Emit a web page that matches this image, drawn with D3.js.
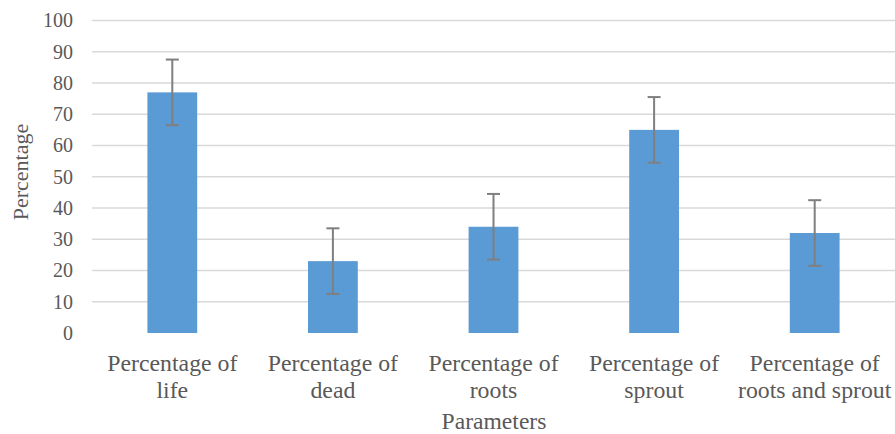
<!DOCTYPE html>
<html>
<head>
<meta charset="utf-8">
<script src="https://cdn.jsdelivr.net/npm/d3@7"></script>
<style>
  body { margin: 0; background: #fff; }
  svg text { font-family: "Liberation Serif", Tinos, "Times New Roman", "DejaVu Serif", serif; fill: #595959; }
</style>
</head>
<body>
<div id="chart"></div>
<script>
// data
var categories = [["Percentage of", "life"], ["Percentage of", "dead"], ["Percentage of", "roots"],
                  ["Percentage of", "sprout"], ["Percentage of", "roots and sprout"]];
var values = [77, 23, 34, 65, 32];
var errors = [10.5, 10.5, 10.5, 10.5, 10.5];
var yTicks = [0, 10, 20, 30, 40, 50, 60, 70, 80, 90, 100];

var width = 895, height = 434;
var margin = {top: 20.5, right: 0, bottom: 101, left: 92};

var svg = d3.select("#chart").append("svg")
    .attr("width", width)
    .attr("height", height);

var x = d3.scaleBand()
    .domain(d3.range(values.length))
    .range([margin.left, width - margin.right])
    .paddingInner(0.69)
    .paddingOuter(0.345);

var y = d3.scaleLinear()
    .domain([0, 100])
    .range([height - margin.bottom, margin.top]);

// gridlines
svg.append("g")
    .selectAll("line")
    .data(yTicks.filter(function(d){ return d > 0; }))
    .join("line")
    .attr("x1", margin.left)
    .attr("x2", width - margin.right)
    .attr("y1", function(d){ return y(d); })
    .attr("y2", function(d){ return y(d); })
    .attr("stroke", "#d9d9d9")
    .attr("stroke-width", 1.3);

// y axis labels
var yAxis = svg.append("g")
    .attr("transform", "translate(" + (margin.left - 19) + ",0)")
    .call(d3.axisLeft(y).tickValues(yTicks).tickSize(0).tickPadding(0))
    .attr("font-family", null)
    .attr("font-size", null);
yAxis.select(".domain").remove();
yAxis.selectAll("text")
    .style("font-size", "20px")
    .attr("fill", "#595959");

// bars
svg.append("g")
    .selectAll("rect")
    .data(values)
    .join("rect")
    .attr("x", function(d, i){ return x(i); })
    .attr("y", function(d){ return y(d); })
    .attr("width", x.bandwidth())
    .attr("height", function(d){ return y(0) - y(d); })
    .attr("fill", "#5b9bd5");

// error bars
var eb = svg.append("g")
    .attr("stroke", "#7f7f7f")
    .attr("stroke-width", 2);
values.forEach(function(v, i){
    var cx = x(i) + x.bandwidth() / 2;
    var lo = y(v - errors[i]), hi = y(v + errors[i]);
    eb.append("line").attr("x1", cx).attr("x2", cx).attr("y1", lo).attr("y2", hi);
    eb.append("line").attr("x1", cx - 6.5).attr("x2", cx + 6.5).attr("y1", lo).attr("y2", lo);
    eb.append("line").attr("x1", cx - 6.5).attr("x2", cx + 6.5).attr("y1", hi).attr("y2", hi);
});

// category labels
var cat = svg.append("g")
    .selectAll("text")
    .data(categories)
    .join("text")
    .attr("text-anchor", "middle")
    .attr("x", function(d, i){ return x(i) + x.bandwidth() / 2; })
    .attr("y", 370.5)
    .style("font-size", "23.8px");
cat.selectAll("tspan")
    .data(function(d){ return d; })
    .join("tspan")
    .attr("x", function(){ return d3.select(this.parentNode).attr("x"); })
    .attr("dy", function(d, j){ return j === 0 ? 0 : 27.5; })
    .text(function(d){ return d; });

// axis titles
svg.append("text")
    .attr("text-anchor", "middle")
    .attr("x", 494)
    .attr("y", 428.5)
    .style("font-size", "23.6px")
    .text("Parameters");

svg.append("text")
    .attr("text-anchor", "middle")
    .attr("transform", "translate(28,172) rotate(-90)")
    .style("font-size", "22px")
    .text("Percentage");
</script>
</body>
</html>
